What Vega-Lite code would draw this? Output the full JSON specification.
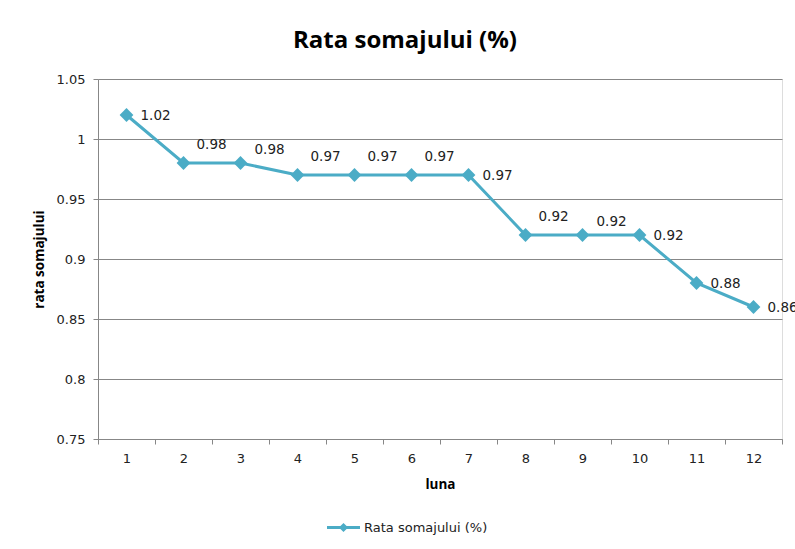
{
  "$schema": "https://vega.github.io/schema/vega-lite/v6.json",
  "width": 684,
  "height": 360,
  "autosize": {"type": "none"},
  "padding": {"left": 98, "top": 79, "right": 13, "bottom": 110},
  "background": "white",
  "title": {
    "text": "Rata somajului (%)",
    "fontSize": 24,
    "fontWeight": "bold",
    "font": "Open Sans",
    "color": "#000000",
    "anchor": "middle",
    "dx": -35,
    "offset": 20
  },
  "data": {
    "values": [
      {"luna": 1, "rata": 1.02},
      {"luna": 2, "rata": 0.98},
      {"luna": 3, "rata": 0.98},
      {"luna": 4, "rata": 0.97},
      {"luna": 5, "rata": 0.97},
      {"luna": 6, "rata": 0.97},
      {"luna": 7, "rata": 0.97},
      {"luna": 8, "rata": 0.92},
      {"luna": 9, "rata": 0.92},
      {"luna": 10, "rata": 0.92},
      {"luna": 11, "rata": 0.88},
      {"luna": 12, "rata": 0.86}
    ]
  },
  "encoding": {
    "x": {
      "field": "luna",
      "type": "ordinal",
      "scale": {"type": "band", "paddingInner": 0, "paddingOuter": 0},
      "axis": {
        "title": "luna",
        "labelAngle": 0,
        "tickBand": "extent",
        "tickSize": 5,
        "tickColor": "#878787",
        "domainColor": "#878787",
        "labelFont": "DejaVu Sans",
        "labelFontSize": 13,
        "labelColor": "#222222",
        "labelPadding": 8,
        "titleFont": "Open Sans",
        "titleFontSize": 13.5,
        "titleFontWeight": "bold",
        "titleColor": "#000000",
        "titlePadding": 12,
        "grid": false
      }
    },
    "y": {
      "field": "rata",
      "type": "quantitative",
      "scale": {"domain": [0.75, 1.05], "nice": false, "zero": false},
      "axis": {
        "title": "rata somajului",
        "values": [0.75, 0.8, 0.85, 0.9, 0.95, 1, 1.05],
        "format": "~g",
        "tickSize": 5,
        "tickColor": "#878787",
        "domainColor": "#878787",
        "gridColor": "#878787",
        "gridWidth": 1,
        "labelFont": "DejaVu Sans",
        "labelFontSize": 13,
        "labelColor": "#222222",
        "labelPadding": 8,
        "titleFont": "Open Sans",
        "titleFontSize": 13.5,
        "titleFontWeight": "bold",
        "titleColor": "#000000",
        "titlePadding": 10
      }
    }
  },
  "layer": [
    {
      "mark": {"type": "line", "color": "#4BACC6", "strokeWidth": 3},
      "encoding": {}
    },
    {
      "mark": {"type": "point", "shape": "diamond", "filled": true, "size": 190, "opacity": 1},
      "encoding": {
        "color": {
          "datum": "Rata somajului (%)",
          "scale": {"range": ["#4BACC6"]},
          "legend": {
            "title": null,
            "orient": "none",
            "legendX": 229,
            "legendY": 432,
            "symbolType": "M-1,-0.09L1,-0.09L1,0.09L-1,0.09Z M-0.28,0L0,-0.28L0.28,0L0,0.28Z",
            "symbolSize": 1089,
            "symbolStrokeWidth": 0,
            "symbolFillColor": "#4BACC6",
            "symbolOpacity": 1,
            "labelFont": "DejaVu Sans",
            "labelFontSize": 13,
            "labelColor": "#222222",
            "labelOffset": 4
          }
        }
      }
    },
    {
      "transform": [{"filter": {"field": "luna", "oneOf": [1, 7, 10, 11, 12]}}],
      "mark": {"type": "text", "align": "left", "baseline": "middle", "dx": 14, "dy": 1, "font": "DejaVu Sans", "fontSize": 13.5, "color": "#222222"},
      "encoding": {"text": {"field": "rata", "type": "quantitative", "format": "~g"}}
    },
    {
      "transform": [{"filter": {"field": "luna", "oneOf": [2, 4, 5, 6, 8]}}],
      "mark": {"type": "text", "align": "left", "baseline": "middle", "dx": 13, "dy": -18, "font": "DejaVu Sans", "fontSize": 13.5, "color": "#222222"},
      "encoding": {"text": {"field": "rata", "type": "quantitative", "format": "~g"}}
    },
    {
      "transform": [{"filter": {"field": "luna", "oneOf": [3, 9]}}],
      "mark": {"type": "text", "align": "left", "baseline": "middle", "dx": 14, "dy": -13, "font": "DejaVu Sans", "fontSize": 13.5, "color": "#222222"},
      "encoding": {"text": {"field": "rata", "type": "quantitative", "format": "~g"}}
    }
  ]
}
